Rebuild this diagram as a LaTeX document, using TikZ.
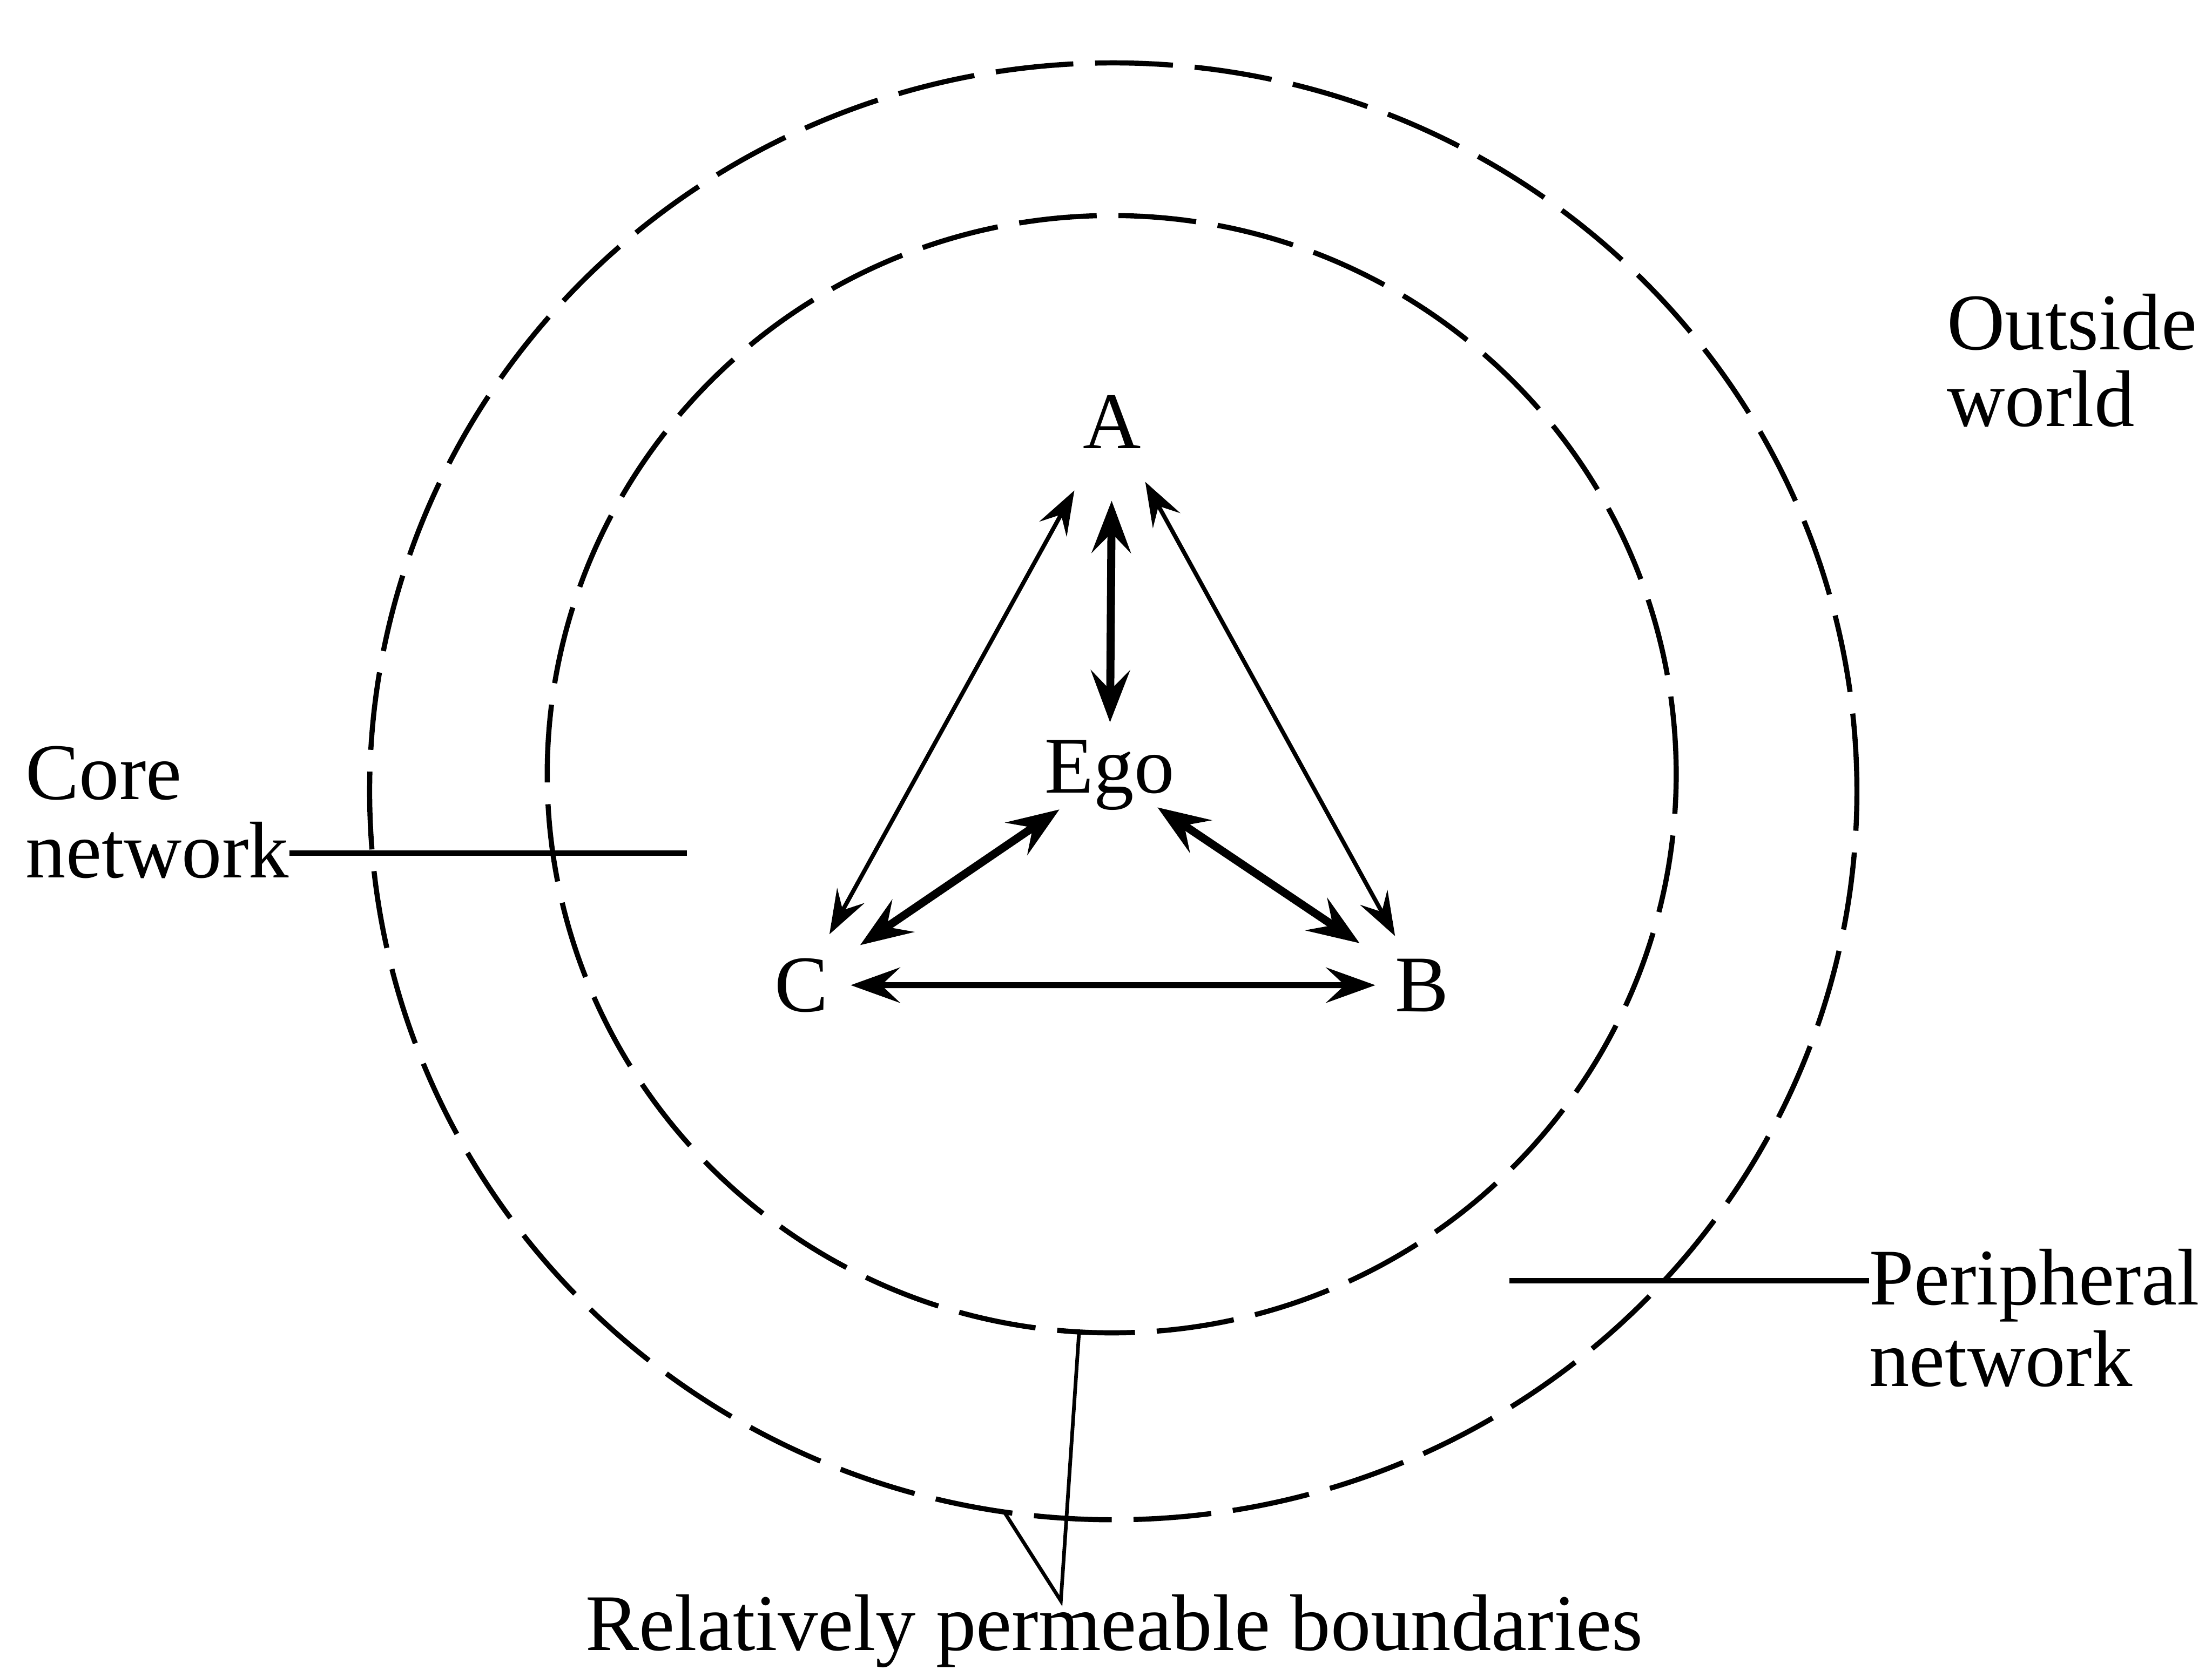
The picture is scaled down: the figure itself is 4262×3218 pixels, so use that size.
\documentclass[tikz,border=0pt]{standalone}
\usepackage{fontspec}
\setmainfont{Liberation Serif}
\usetikzlibrary{arrows.meta}
\begin{document}
\begin{tikzpicture}[x=0.01cm,y=-0.01cm,
  lbl/.style={font=\fontsize{44}{53}\selectfont, inner sep=0pt, anchor=base west},
  letter/.style={font=\fontsize{44}{53}\selectfont, inner sep=0pt, anchor=base},
  boundary/.style={line width=2.8pt, dash pattern=on 1.5cm off 0.42cm},
  thinarrow/.style={line width=2.3pt, {Stealth[length=0.85cm,width=0.6cm,inset=0.32cm]}-{Stealth[length=0.85cm,width=0.6cm,inset=0.32cm]}},
  thickarrow/.style={line width=4.4pt, {Stealth[length=1.0cm,width=0.75cm,inset=0.38cm]}-{Stealth[length=1.0cm,width=0.75cm,inset=0.38cm]}},
  midarrow/.style={line width=3.2pt, {Stealth[length=0.95cm,width=0.68cm,inset=0.36cm]}-{Stealth[length=0.95cm,width=0.68cm,inset=0.36cm]}},
  pointer/.style={line width=2pt},
  leader/.style={line width=2.8pt}]
\useasboundingbox (0,0) rectangle (4262,3218);

% boundaries
\draw[boundary] (2145,1525) ellipse [x radius=14.32cm, y radius=14.03cm];
\draw[boundary] (2142,1492) ellipse [x radius=10.87cm, y radius=10.76cm];

% members
\node[letter] (A) at (2143,864) {A};
\node[letter] (Ego) at (2138,1528) {Ego};
\node[letter] (C) at (1544,1949) {C};
\node[letter] (B) at (2740,1949) {B};

% ties
\draw[thickarrow, shorten <=1.52cm, shorten >=1.02cm] (A.center) -- (Ego.center);
\draw[thinarrow, shorten <=1.51cm, shorten >=1.12cm] (A.center) -- (C.center);
\draw[thinarrow, shorten <=1.32cm, shorten >=1.08cm] (A.center) -- (B.center);
\draw[thickarrow, shorten <=1.17cm, shorten >=1.37cm] (Ego.center) -- (C.center);
\draw[thickarrow, shorten <=1.11cm, shorten >=1.45cm] (Ego.center) -- (B.center);
\draw[midarrow, shorten <=0.95cm, shorten >=0.90cm] (C.center) -- (B.center);

% labels
\node[lbl] (out1) at (3751,674) {Outside};
\node[lbl] (out2) at (3751,821) {world};
\node[lbl] (core1) at (49,1541) {Core};
\node[lbl] (core2) at (49,1691) {network};
\node[lbl] (per1) at (3601,2514) {Peripheral};
\node[lbl] (per2) at (3601,2672) {network};
\node[letter] (rel) at (2147,3180) {Relatively permeable boundaries};

% leaders
\coordinate (coreend) at (1324,1644);
\draw[leader] (core2.east |- coreend) -- (coreend);
\coordinate (perend) at (2908,2468);
\draw[leader] (per1.west |- perend) -- (perend);

\coordinate (apex) at (2044,3085);
\coordinate (innerpt) at (2079,2568);
\coordinate (outerpt) at (1935,2914);
\draw[pointer] (innerpt) -- (apex) -- (outerpt);
\end{tikzpicture}
\end{document}
